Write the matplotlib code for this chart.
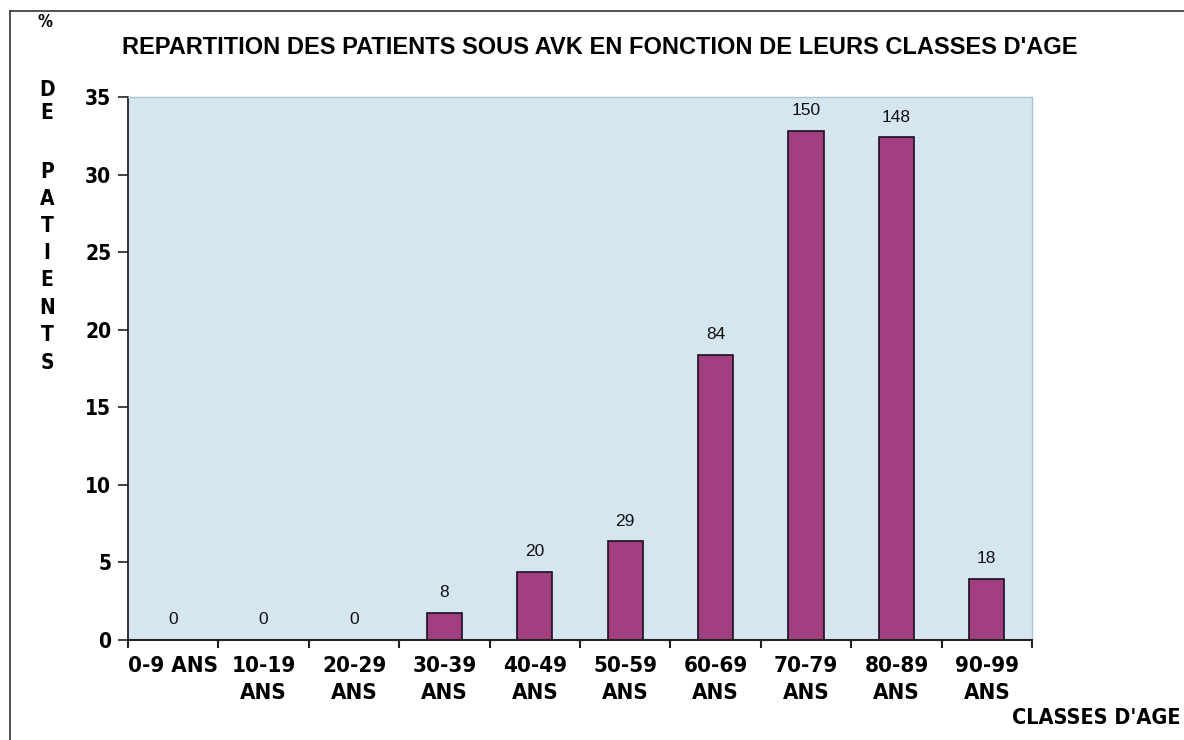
import matplotlib
matplotlib.use("Agg")
import matplotlib.pyplot as plt
from matplotlib.lines import Line2D

categories = ["0-9 ANS", "10-19\nANS", "20-29\nANS", "30-39\nANS", "40-49\nANS",
              "50-59\nANS", "60-69\nANS", "70-79\nANS", "80-89\nANS", "90-99\nANS"]
percent = [0, 0, 0, 1.75, 4.4, 6.35, 18.4, 32.8, 32.4, 3.95]
counts = [0, 0, 0, 8, 20, 29, 84, 150, 148, 18]
yticks = [0, 5, 10, 15, 20, 25, 30, 35]

narrow = ["DejaVu Sans", "Liberation Sans"]
NSTRETCH = "condensed"
W, H = 1184, 740
fig = plt.figure(figsize=(W / 100, H / 100), dpi=100)
fig.patch.set_facecolor("white")

# outer frame (left and top edges)
fig.add_artist(Line2D([10 / W, 10 / W], [0, 1 - 11 / H], transform=fig.transFigure,
                      color="#444444", linewidth=1.3))
fig.add_artist(Line2D([10 / W, 1], [1 - 11 / H, 1 - 11 / H], transform=fig.transFigure,
                      color="#444444", linewidth=1.3))

ax = fig.add_axes([128 / W, 1 - 640 / H, (1032 - 128) / W, (640 - 97) / H])
ax.set_facecolor("#d6e6f1")
x = list(range(len(categories)))
ax.bar(x, percent, width=0.39, color="#a23f80", edgecolor="#1a1020", linewidth=1.2)
ax.set_xlim(-0.5, len(categories) - 0.5)
ax.set_ylim(0, 35)
ax.set_yticks(yticks)
ax.set_yticklabels([str(t) for t in yticks], family=narrow, fontstretch=NSTRETCH,
                   fontweight="bold", fontsize=15)
ax.set_xticks([i + 0.5 for i in x[:-1]] + [-0.5, len(categories) - 0.5])
ax.set_xticklabels([])
ax.tick_params(axis="x", length=6, width=1.5, color="#222222", direction="out")
ax.tick_params(axis="y", length=7, width=1.2, color="#222222", direction="out", pad=5)
for i, lab in enumerate(categories):
    ax.text(i, -1.05, lab, ha="center", va="top", family=narrow, fontstretch=NSTRETCH,
            fontweight="bold", fontsize=16, linespacing=1.45)
for i, (p, c) in enumerate(zip(percent, counts)):
    ax.text(i, p + 1.3, str(c), ha="center", va="center", family="Liberation Sans",
            fontsize=12.5, color="#111111")
ax.spines["left"].set_color("#222222")
ax.spines["left"].set_linewidth(1.3)
ax.spines["bottom"].set_color("#222222")
ax.spines["bottom"].set_linewidth(1.5)
for s in ("top", "right"):
    ax.spines[s].set_color("#a8c4d4")
    ax.spines[s].set_linewidth(1.0)

fig.text(600 / W, 1 - 48 / H, "REPARTITION DES PATIENTS SOUS AVK EN FONCTION DE LEURS CLASSES D'AGE",
         ha="center", va="center", family="Liberation Sans", fontweight="bold", fontsize=17)
fig.text(45 / W, 1 - 22 / H, "%", ha="center", va="center", family=narrow, fontstretch=NSTRETCH,
         fontweight="bold", fontsize=12)
letters = ["D", "E", "P", "A", "T", "I", "E", "N", "T", "S"]
ys = [90, 113, 172, 199, 226, 253, 280, 308, 335, 363]
for ch, yy in zip(letters, ys):
    fig.text(47 / W, 1 - yy / H, ch, ha="center", va="center", family=narrow,
             fontstretch=NSTRETCH, fontweight="bold", fontsize=15)
fig.text(1096 / W, 1 - 718 / H, "CLASSES D'AGE", ha="center", va="center", family=narrow,
         fontstretch=NSTRETCH, fontweight="bold", fontsize=15.5)

fig.savefig("out.png", dpi=100)
